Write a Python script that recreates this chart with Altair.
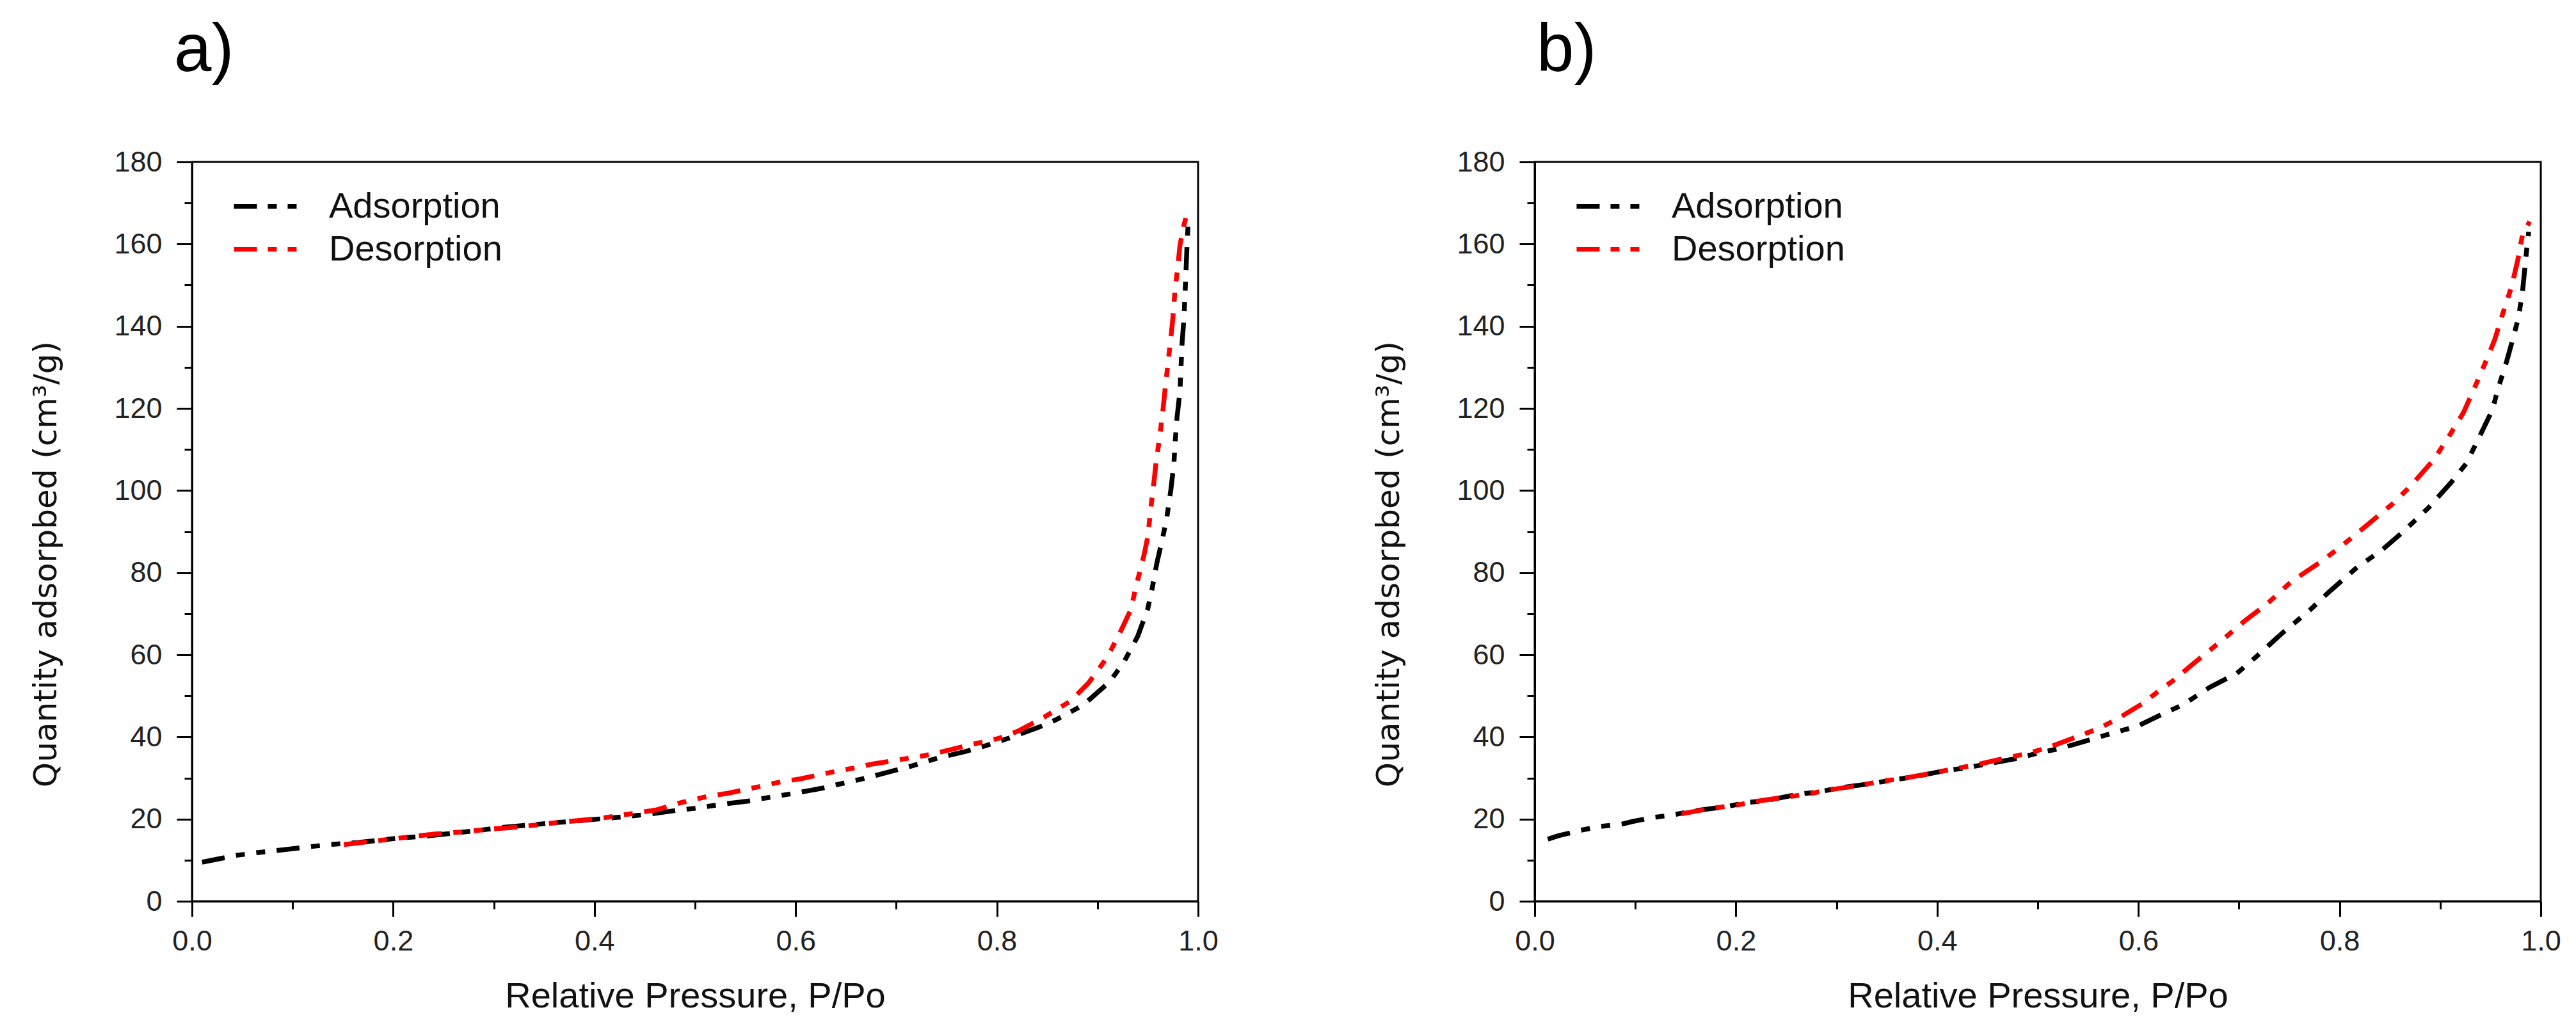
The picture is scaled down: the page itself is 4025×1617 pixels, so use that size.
import altair as alt
import pandas as pd

# ---------------- data ----------------
A_ADS_P = [0.010, 0.045, 0.064, 0.090, 0.118, 0.137, 0.165, 0.207, 0.234, 0.283, 0.306, 0.355,
           0.380, 0.427, 0.455, 0.481, 0.499, 0.527, 0.553, 0.572, 0.599, 0.626, 0.645, 0.670,
           0.696, 0.715, 0.743, 0.768, 0.788, 0.813, 0.841, 0.859, 0.886, 0.912, 0.926, 0.940,
           0.950, 0.954, 0.959, 0.965, 0.969, 0.973, 0.976, 0.977, 0.979, 0.982, 0.984, 0.986,
           0.988, 0.989, 0.990]
A_ADS_Q = [9.5, 11.2, 11.8, 12.5, 13.3, 13.8, 14.3, 15.4, 15.9, 17.2, 17.9, 19.0,
           19.5, 20.5, 21.2, 22.1, 22.6, 23.6, 24.4, 25.2, 26.3, 27.5, 28.6, 30.0,
           31.7, 32.9, 35.0, 36.4, 37.8, 39.8, 42.3, 44.2, 47.8, 53.4, 58.1, 64.5,
           71.2, 75.7, 82.3, 88.7, 93.5, 100.3, 106.6, 111.1, 117.6, 124.2, 135.5, 142.1,
           153.4, 159.7, 164.4]

A_DES_P = [0.151, 0.169, 0.194, 0.224, 0.243, 0.270, 0.298, 0.315, 0.340, 0.368, 0.387, 0.412,
           0.442, 0.461, 0.486, 0.514, 0.533, 0.558, 0.586, 0.605, 0.631, 0.657, 0.676, 0.702,
           0.729, 0.749, 0.774, 0.801, 0.821, 0.847, 0.873, 0.891, 0.910, 0.924, 0.933, 0.939,
           0.946, 0.950, 0.953, 0.956, 0.958, 0.962, 0.965, 0.967, 0.970, 0.973, 0.975, 0.977,
           0.980, 0.982, 0.986, 0.990]
A_DES_Q = [13.8, 14.3, 15.0, 15.9, 16.4, 16.9, 17.6, 17.9, 18.5, 19.3, 19.7, 20.4,
           21.5, 22.2, 24.0, 25.6, 26.3, 27.6, 29.1, 29.8, 31.2, 32.4, 33.4, 34.4,
           35.5, 36.6, 38.1, 39.6, 41.4, 44.8, 48.7, 53.1, 59.5, 66.2, 70.9, 77.3,
           84.0, 88.7, 95.6, 101.8, 106.3, 113.4, 119.4, 124.2, 130.8, 137.3, 142.1, 148.6,
           154.9, 159.7, 164.7, 168.3]

B_ADS_P = [0.013, 0.023, 0.046, 0.065, 0.087, 0.097, 0.118, 0.137, 0.158, 0.190, 0.210, 0.230,
           0.263, 0.282, 0.303, 0.336, 0.355, 0.375, 0.408, 0.427, 0.447, 0.480, 0.499, 0.524,
           0.553, 0.571, 0.600, 0.624, 0.644, 0.671, 0.698, 0.717, 0.744, 0.771, 0.789, 0.816,
           0.843, 0.861, 0.888, 0.911, 0.926, 0.940, 0.952, 0.957, 0.966, 0.973, 0.978, 0.982,
           0.984, 0.986, 0.988]
B_ADS_Q = [15.1, 15.9, 17.3, 18.2, 18.8, 19.4, 20.4, 21.0, 22.0, 23.0, 24.0, 24.5,
           26.1, 26.6, 27.6, 28.7, 29.5, 30.2, 31.8, 32.4, 33.3, 34.8, 36.0, 37.3,
           39.4, 40.7, 42.7, 45.6, 47.8, 52.1, 55.5, 59.5, 65.5, 71.0, 75.2, 81.0,
           85.7, 89.5, 95.7, 102.0, 106.6, 113.6, 119.7, 124.4, 131.4, 137.6, 142.3, 148.9,
           153.8, 158.8, 163.0]

B_DES_P = [0.146, 0.173, 0.203, 0.220, 0.245, 0.272, 0.292, 0.321, 0.344, 0.364, 0.391, 0.418,
           0.437, 0.465, 0.490, 0.510, 0.534, 0.562, 0.582, 0.604, 0.615, 0.634, 0.655, 0.681,
           0.707, 0.727, 0.752, 0.781, 0.800, 0.826, 0.852, 0.871, 0.894, 0.911, 0.923, 0.935,
           0.946, 0.954, 0.962, 0.971, 0.977, 0.982, 0.989]
B_DES_Q = [21.3, 22.5, 23.5, 24.3, 25.2, 26.1, 27.1, 28.1, 29.2, 29.8, 31.0, 32.3,
           33.1, 34.7, 36.0, 37.4, 39.6, 42.2, 44.8, 48.1, 50.2, 53.6, 57.9, 63.1,
           68.5, 72.2, 77.8, 82.6, 86.1, 91.3, 96.6, 101.2, 107.6, 114.1, 118.9, 125.5,
           131.8, 136.6, 142.9, 149.7, 156.0, 162.5, 165.5]

SERIES = ["Adsorption", "Desorption"]
COLORS = ["#000000", "#ff0000"]
X_MAJOR = [0.0, 0.2, 0.4, 0.6, 0.8, 1.0]
X_MINOR = [0.1, 0.3, 0.5, 0.7, 0.9]
Y_MAJOR = [0, 20, 40, 60, 80, 100, 120, 140, 160, 180]
Y_MINOR = [10, 30, 50, 70, 90, 110, 130, 150, 170]
X_TITLE = "Relative Pressure, P/Po"
Y_TITLE = "Quantity adsorpbed (cm³/g)"

# ---------------- styling ----------------
W, H = 1572, 1155
FONT = "Liberation Sans, Arial, Helvetica, sans-serif"
YFONT = "DejaVu Sans, Verdana, sans-serif"
DASH = [36, 18, 14, 18, 14, 18]
LEGEND_SYMBOL = "M-1.43,0H1.43"   # long horizontal stroke, 100px at size 4900


def make_df(ads_p, ads_q, des_p, des_q):
    rows = []
    for i, (p, q) in enumerate(zip(ads_p, ads_q)):
        rows.append({"P": p, "Q": q, "series": "Adsorption", "i": i})
    for i, (p, q) in enumerate(zip(des_p, des_q)):
        rows.append({"P": p, "Q": q, "series": "Desorption", "i": i})
    return pd.DataFrame(rows)


def panel(df, letter, title_dx):
    xs = alt.Scale(domain=[0, 1], nice=False, zero=False)
    ys = alt.Scale(domain=[0, 180], nice=False, zero=False)
    lines = alt.Chart(df).mark_line(
        strokeWidth=7.5, strokeDash=DASH, strokeCap="butt"
    ).encode(
        x=alt.X("P:Q", scale=xs, axis=alt.Axis(
            orient="bottom", values=X_MAJOR, format=".1f", grid=False,
            tickSize=24, tickWidth=3, tickColor="black",
            domainColor="black", domainWidth=3,
            labelFontSize=45, labelFont=FONT, labelColor="#222", labelPadding=16,
            labelFlush=False, labelOverlap=False,
            title=X_TITLE, titleFontSize=56, titleFont=FONT, titleFontWeight="normal",
            titleColor="#111", titleBaseline="alphabetic", titleY=165)),
        y=alt.Y("Q:Q", scale=ys, axis=alt.Axis(
            orient="left", values=Y_MAJOR, format="d", grid=False,
            tickSize=24, tickWidth=3, tickColor="black",
            domainColor="black", domainWidth=3,
            labelFontSize=45, labelFont=FONT, labelColor="#222", labelPadding=23,
            labelFlush=False, labelOverlap=False,
            title=Y_TITLE, titleFontSize=50, titleFont=YFONT, titleFontWeight="normal",
            titleColor="#111", titleBaseline="alphabetic", titleAngle=270,
            titleAlign="center", titleX=-213, titleY=628)),
        color=alt.Color("series:N", scale=alt.Scale(domain=SERIES, range=COLORS),
                        legend=alt.Legend(
                            title=None, orient="none", legendX=77, legendY=31,
                            direction="vertical", symbolType=LEGEND_SYMBOL, symbolSize=4900,
                            symbolStrokeWidth=7, symbolDash=[36, 17, 14, 17, 14, 17],
                            labelFontSize=56, labelFont=FONT, labelColor="#111",
                            labelOffset=60, rowPadding=0, padding=0, labelLimit=0)),
        order=alt.Order("i:Q"),
    )
    minor = alt.Chart(df).mark_point(opacity=0).encode(
        x=alt.X("P:Q", scale=xs, axis=alt.Axis(
            orient="bottom", values=X_MINOR, labels=False, domain=False, grid=False,
            tickSize=12, tickWidth=3, tickColor="black", title=None)),
        y=alt.Y("Q:Q", scale=ys, axis=alt.Axis(
            orient="left", values=Y_MINOR, labels=False, domain=False, grid=False,
            tickSize=12, tickWidth=3, tickColor="black", title=None)),
    )
    return alt.layer(lines, minor).resolve_axis(
        x="independent", y="independent"
    ).properties(
        width=W, height=H,
        title=alt.TitleParams(text=letter, anchor="start", frame="group", dx=title_dx,
                              offset=15, baseline="alphabetic", fontSize=105,
                              font=FONT, fontWeight="normal", color="black"),
    )


pa = panel(make_df(A_ADS_P, A_ADS_Q, A_DES_P, A_DES_Q), "a)", -28)
pb = panel(make_df(B_ADS_P, B_ADS_Q, B_DES_P, B_DES_Q), "b)", 3)

chart = alt.hconcat(pa, pb, spacing=526).resolve_scale(
    color="independent"
).properties(
    bounds="flush",
    padding={"left": 45, "top": 25, "right": 10, "bottom": 10},
    background="white",
).configure_view(stroke="black", strokeWidth=3)

chart.save("out.html", embed_options={"renderer": "svg", "actions": False})
